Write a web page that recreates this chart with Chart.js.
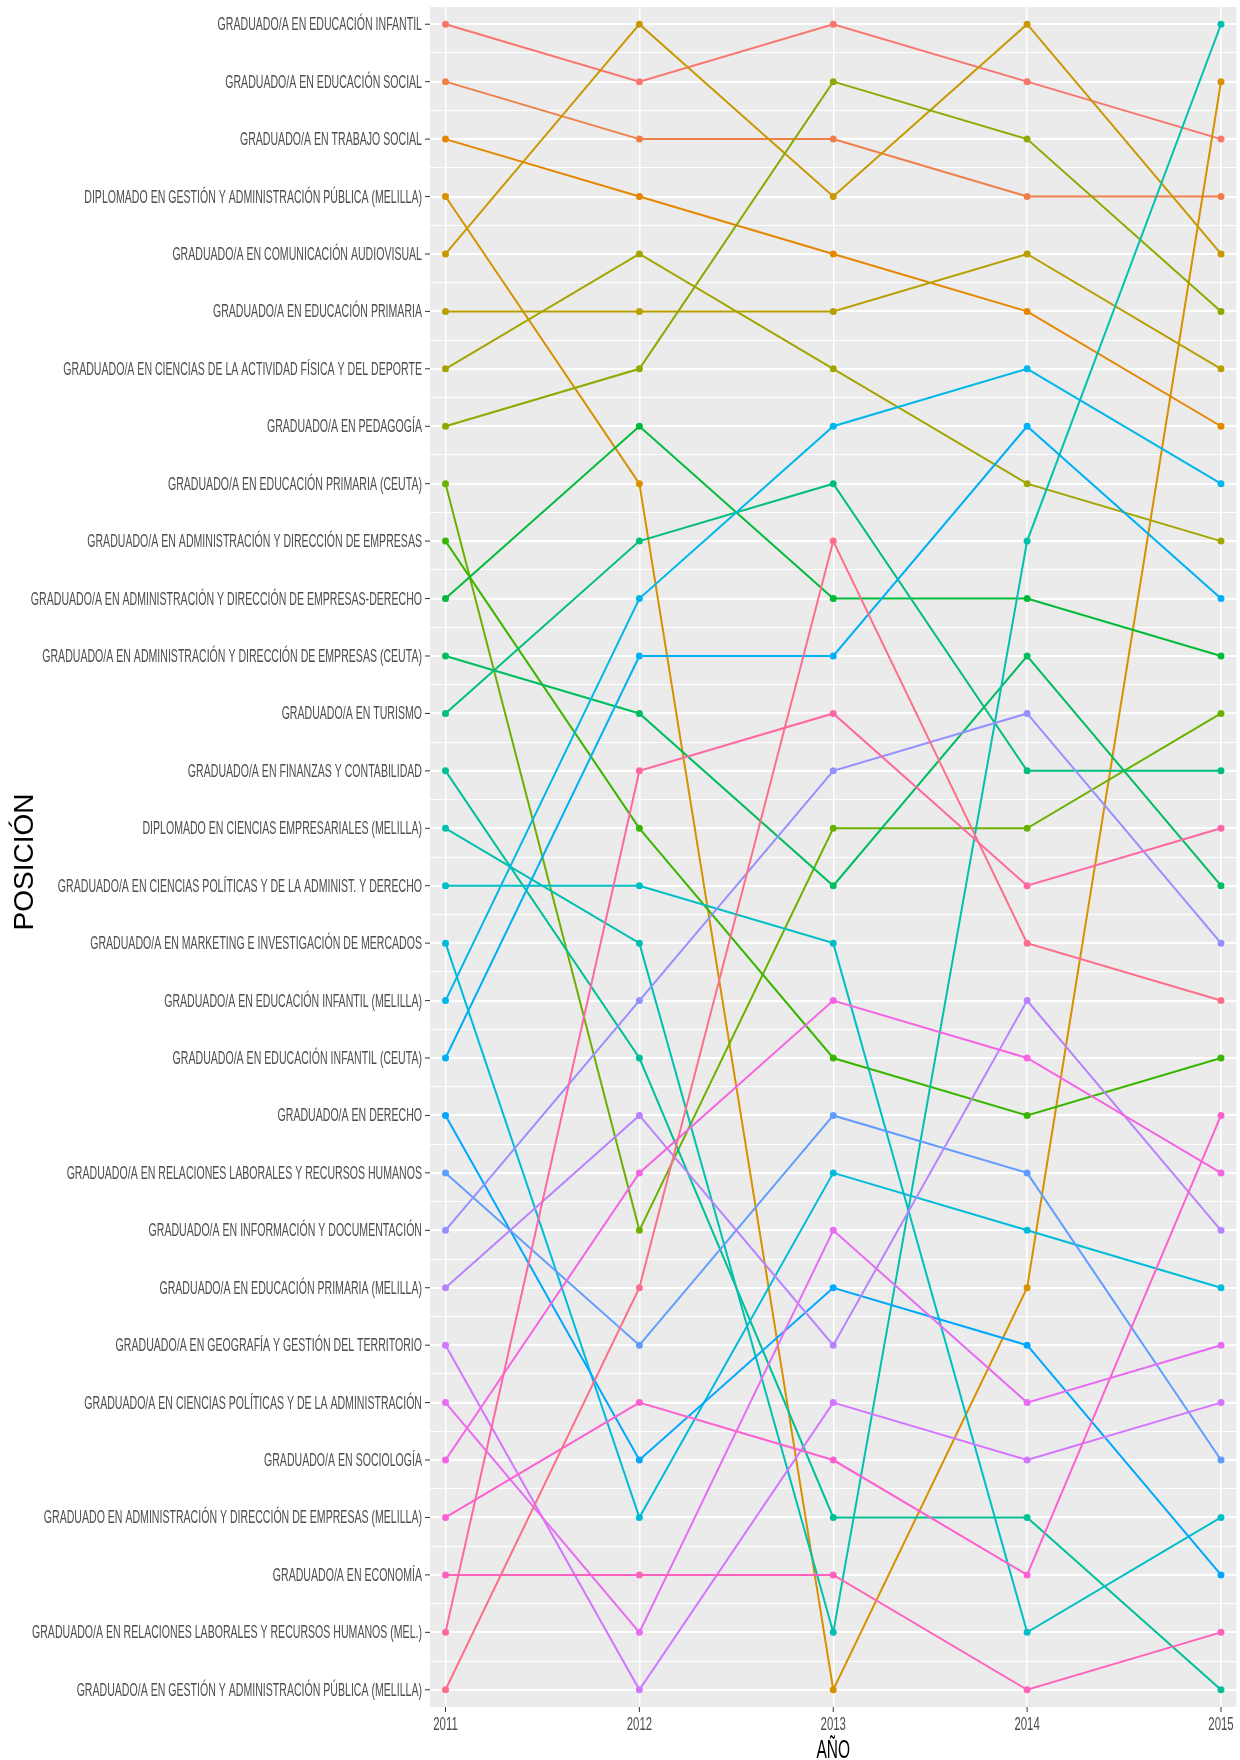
<!DOCTYPE html>
<html>
<head>
<meta charset="utf-8">
<script src="https://cdn.jsdelivr.net/npm/chart.js@4.4.1/dist/chart.umd.min.js"></script>
<style>
  html, body { margin: 0; padding: 0; background: #ffffff; }
  canvas { display: block; }
</style>
</head>
<body>
<canvas id="bumpChart" width="1240" height="1760"></canvas>
<script>
// ── Data ────────────────────────────────────────────────────

var years = [2011, 2012, 2013, 2014, 2015];

// Programs in their 2011 order (row 1 at the top)
var programas = [
  'GRADUADO/A EN EDUCACIÓN INFANTIL',
  'GRADUADO/A EN EDUCACIÓN SOCIAL',
  'GRADUADO/A EN TRABAJO SOCIAL',
  'DIPLOMADO EN GESTIÓN Y ADMINISTRACIÓN PÚBLICA (MELILLA)',
  'GRADUADO/A EN COMUNICACIÓN AUDIOVISUAL',
  'GRADUADO/A EN EDUCACIÓN PRIMARIA',
  'GRADUADO/A EN CIENCIAS DE LA ACTIVIDAD FÍSICA Y DEL DEPORTE',
  'GRADUADO/A EN PEDAGOGÍA',
  'GRADUADO/A EN EDUCACIÓN PRIMARIA (CEUTA)',
  'GRADUADO/A EN ADMINISTRACIÓN Y DIRECCIÓN DE EMPRESAS',
  'GRADUADO/A EN ADMINISTRACIÓN Y DIRECCIÓN DE EMPRESAS-DERECHO',
  'GRADUADO/A EN ADMINISTRACIÓN Y DIRECCIÓN DE EMPRESAS (CEUTA)',
  'GRADUADO/A EN TURISMO',
  'GRADUADO/A EN FINANZAS Y CONTABILIDAD',
  'DIPLOMADO EN CIENCIAS EMPRESARIALES (MELILLA)',
  'GRADUADO/A EN CIENCIAS POLÍTICAS Y DE LA ADMINIST. Y DERECHO',
  'GRADUADO/A EN MARKETING E INVESTIGACIÓN DE MERCADOS',
  'GRADUADO/A EN EDUCACIÓN INFANTIL (MELILLA)',
  'GRADUADO/A EN EDUCACIÓN INFANTIL (CEUTA)',
  'GRADUADO/A EN DERECHO',
  'GRADUADO/A EN RELACIONES LABORALES Y RECURSOS HUMANOS',
  'GRADUADO/A EN INFORMACIÓN Y DOCUMENTACIÓN',
  'GRADUADO/A EN EDUCACIÓN PRIMARIA (MELILLA)',
  'GRADUADO/A EN GEOGRAFÍA Y GESTIÓN DEL TERRITORIO',
  'GRADUADO/A EN CIENCIAS POLÍTICAS Y DE LA ADMINISTRACIÓN',
  'GRADUADO/A EN SOCIOLOGÍA',
  'GRADUADO EN ADMINISTRACIÓN Y DIRECCIÓN DE EMPRESAS (MELILLA)',
  'GRADUADO/A EN ECONOMÍA',
  'GRADUADO/A EN RELACIONES LABORALES Y RECURSOS HUMANOS (MEL.)',
  'GRADUADO/A EN GESTIÓN Y ADMINISTRACIÓN PÚBLICA (MELILLA)'
];

// Position of each program (same order as above) per year
var pos2011 = [1, 2, 3, 4, 5, 6, 7, 8, 9, 10, 11, 12, 13, 14, 15, 16, 17, 18, 19, 20, 21, 22, 23, 24, 25, 26, 27, 28, 29, 30];
var pos2012 = [2, 3, 4, 9, 1, 6, 5, 7, 22, 15, 8, 13, 10, 19, 17, 16, 27, 11, 12, 26, 24, 18, 20, 30, 29, 21, 25, 28, 14, 23];
var pos2013 = [1, 3, 5, 30, 4, 6, 7, 2, 15, 19, 11, 16, 9, 27, 29, 17, 21, 8, 12, 23, 20, 14, 24, 25, 22, 18, 26, 28, 13, 10];
var pos2014 = [2, 4, 6, 23, 1, 5, 9, 3, 15, 20, 11, 12, 14, 27, 10, 29, 22, 7, 8, 24, 21, 13, 18, 26, 25, 19, 28, 30, 16, 17];
var pos2015 = [3, 4, 8, 2, 5, 7, 10, 6, 13, 19, 12, 16, 14, 30, 1, 27, 23, 9, 11, 28, 26, 17, 22, 25, 24, 21, 20, 29, 15, 18];

var posiciones = [pos2011, pos2012, pos2013, pos2014, pos2015];

// ── ggplot-style hue palette ────────────────────────────────

function hclToHex(h, c, l) {
  var rad = h * Math.PI / 180;
  var U = c * Math.cos(rad), V = c * Math.sin(rad);
  var Xn = 95.047, Yn = 100, Zn = 108.883;
  var Y = l > 8 ? Yn * Math.pow((l + 16) / 116, 3) : Yn * l / 903.3;
  var den = Xn + 15 * Yn + 3 * Zn;
  var u = U / (13 * l) + 4 * Xn / den;
  var v = V / (13 * l) + 9 * Yn / den;
  var X = 9 * Y * u / (4 * v);
  var Z = -X / 3 - 5 * Y + 3 * Y / v;
  X /= 100; Y /= 100; Z /= 100;
  var rgb = [
    3.240479 * X - 1.537150 * Y - 0.498535 * Z,
    -0.969256 * X + 1.875992 * Y + 0.041556 * Z,
    0.055648 * X - 0.204043 * Y + 1.057311 * Z
  ];
  return '#' + rgb.map(function (ch) {
    ch = ch <= 0.0031308 ? 12.92 * ch : 1.055 * Math.pow(ch, 1 / 2.4) - 0.055;
    ch = Math.round(Math.max(0, Math.min(1, ch)) * 255);
    return ('0' + ch.toString(16)).slice(-2);
  }).join('');
}

var colors = programas.map(function (_, i) {
  return hclToHex(15 + 360 / programas.length * i, 100, 65);
});

// ── Datasets ────────────────────────────────────────────────

var datasets = programas.map(function (name, i) {
  return {
    label: name,
    data: years.map(function (yr, j) { return { x: yr, y: posiciones[j][i] }; }),
    borderColor: colors[i],
    backgroundColor: colors[i],
    pointBackgroundColor: colors[i],
    borderWidth: 2,
    pointRadius: 3.5,
    pointBorderWidth: 0,
    pointHoverRadius: 3.5,
    tension: 0,
    order: programas.length - 1 - i
  };
});

// ── Plugins: panel, labels ──────────────────────────────────

var panelBackground = {
  id: 'panelBackground',
  beforeDraw: function (chart) {
    var a = chart.chartArea;
    var c = chart.ctx;
    c.save();
    c.fillStyle = '#EBEBEB';
    c.fillRect(a.left, a.top, a.right - a.left, a.bottom - a.top);
    c.restore();
  }
};

var axisText = {
  id: 'axisText',
  afterDraw: function (chart) {
    var c = chart.ctx;
    var ys = chart.scales.y;
    var xs = chart.scales.x;
    var a = chart.chartArea;
    c.save();

    // y labels (narrow, like the reference)
    c.font = '17.5px "Liberation Sans", Arial, sans-serif';
    c.textAlign = 'right';
    c.textBaseline = 'alphabetic';
    ys.ticks.forEach(function (t) {
      if (!Number.isInteger(t.value)) return;
      var y = ys.getPixelForValue(t.value);
      c.fillStyle = '#4D4D4D';
      c.save();
      c.translate(a.left - 8, y + 6);
      c.scale(0.604, 1);
      c.fillText(programas[t.value - 1], 0, 0);
      c.restore();
      c.strokeStyle = '#333333';
      c.lineWidth = 1;
      c.beginPath();
      c.moveTo(a.left - 5, y);
      c.lineTo(a.left, y);
      c.stroke();
    });

    // x labels
    c.font = '19px "Liberation Sans", Arial, sans-serif';
    c.textAlign = 'center';
    xs.ticks.forEach(function (t) {
      var x = xs.getPixelForValue(t.value);
      c.strokeStyle = '#333333';
      c.lineWidth = 1;
      c.beginPath();
      c.moveTo(x, a.bottom);
      c.lineTo(x, a.bottom + 5);
      c.stroke();
      c.fillStyle = '#4D4D4D';
      c.save();
      c.translate(x, a.bottom + 23);
      c.scale(0.6, 1);
      c.fillText(String(t.value), 0, 0);
      c.restore();
    });

    // axis titles
    c.fillStyle = '#000000';
    c.font = '25px "Liberation Sans", Arial, sans-serif';
    c.save();
    c.translate((a.left + a.right) / 2, a.bottom + 51);
    c.scale(0.62, 1);
    c.fillText('AÑO', 0, 0);
    c.restore();

    c.font = '28px "Liberation Sans", Arial, sans-serif';
    c.save();
    c.translate(33, (a.top + a.bottom) / 2 + 5);
    c.rotate(-Math.PI / 2);
    c.fillText('POSICIÓN', 0, 0);
    c.restore();

    c.restore();
  }
};

// ── Chart ───────────────────────────────────────────────────

new Chart(document.getElementById('bumpChart').getContext('2d'), {
  type: 'line',
  data: { datasets: datasets },
  options: {
    responsive: false,
    animation: false,
    layout: { padding: { top: 7, right: 0, left: 0, bottom: 0 } },
    plugins: {
      legend: { display: false },
      tooltip: { enabled: false },
      title: { display: false }
    },
    scales: {
      x: {
        type: 'linear',
        min: 2010.92,
        max: 2015.08,
        afterBuildTicks: function (scale) {
          scale.ticks = years.map(function (yr) { return { value: yr }; });
        },
        afterFit: function (scale) { scale.height = 53; },
        ticks: { display: false, autoSkip: false },
        grid: { color: '#FFFFFF', lineWidth: 1.5, drawTicks: false },
        border: { display: false }
      },
      y: {
        type: 'linear',
        reverse: true,
        min: 0.7,
        max: 30.3,
        afterBuildTicks: function (scale) {
          var t = [];
          for (var v = 1; v <= programas.length; v += 0.5) t.push({ value: v });
          scale.ticks = t;
        },
        afterFit: function (scale) { scale.width = 430; },
        ticks: { display: false, autoSkip: false },
        grid: {
          color: '#FFFFFF',
          lineWidth: function (ctx) {
            return ctx.tick && Number.isInteger(ctx.tick.value) ? 2 : 1;
          },
          drawTicks: false
        },
        border: { display: false }
      }
    }
  },
  plugins: [panelBackground, axisText]
});
</script>
</body>
</html>
